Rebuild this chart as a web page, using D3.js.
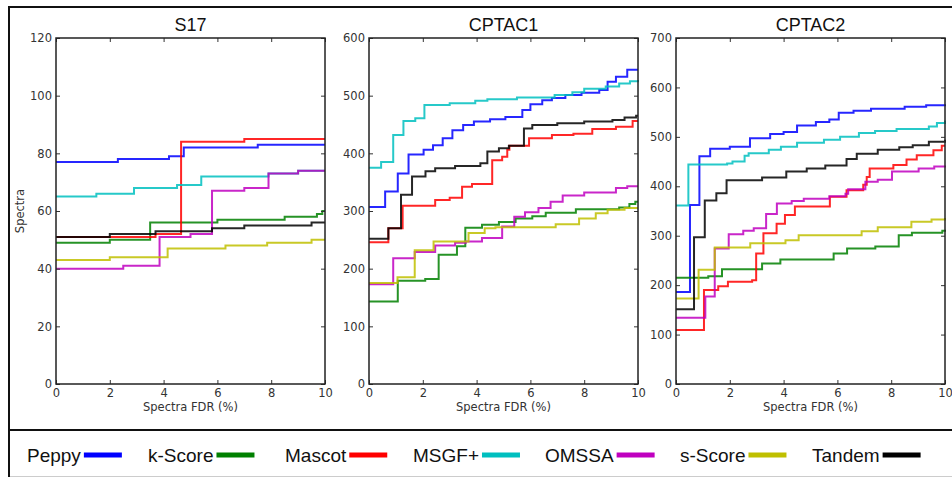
<!DOCTYPE html>
<html>
<head>
<meta charset="utf-8">
<script src="https://cdn.jsdelivr.net/npm/d3@7"></script>
<style>
  html, body { margin: 0; padding: 0; background: #fff; }
  svg { display: block; }
</style>
</head>
<body>
<svg id="chart" width="952" height="477"></svg>
<script>
// ---------- DATA ----------
const seriesNames = ["Peppy", "k-Score", "Mascot", "MSGF+", "OMSSA", "s-Score", "Tandem"];
const seriesColors = ["#0000ff", "#008000", "#ff0000", "#00bfbf", "#bf00bf", "#bfbf00", "#000000"];
const panelTitles = ["S17", "CPTAC1", "CPTAC2"];
const panelYMax = [120, 600, 700];
const panelYStep = [20, 100, 100];
const xTicks = [0, 2, 4, 6, 8, 10];

// S17 (FDR %, spectra)
const S17_Peppy  = [[0,77],[2.3,78],[4.2,79],[4.75,82],[7.5,83],[10,83]];
const S17_kScore = [[0,49],[2,50],[3.5,56],[6,57],[8.5,58],[9.7,59],[9.9,60],[10,60]];
const S17_Mascot = [[0,51],[3.7,52],[4.65,84],[7,85],[10,85]];
const S17_MSGF   = [[0,65],[1.5,66],[2.9,68],[4.5,69],[5.4,72],[7.9,73],[9,74],[10,74]];
const S17_OMSSA  = [[0,40],[2.5,41],[3.85,51],[5,52],[5.8,67],[7,68],[7.9,73],[9,74],[10,74]];
const S17_sScore = [[0,43],[2,44],[4.15,47],[6.3,48],[7.85,49],[9.5,50],[10,50]];
const S17_Tandem = [[0,51],[2,52],[3.7,53],[5.8,54],[7.0,55],[9.5,56],[10,56]];

// CPTAC1
const C1_Peppy  = [[0,307],[0.6,334],[1.07,365],[1.47,398],[2.03,406],[2.38,414],[2.74,426],[3.1,440],[3.5,449],[3.9,455],[4.5,459],[5.07,463],[5.7,475],[6.0,485],[6.44,492],[6.8,496],[7.3,501],[7.9,505],[8.56,510],[8.87,524],[9.18,533],[9.6,545],[10,545]];
const C1_kScore = [[0,143],[1.07,179],[2.09,182],[2.59,224],[3.27,239],[3.58,271],[4.2,276],[4.83,281],[5.45,287],[6.07,291],[6.57,297],[7.69,303],[9.3,306],[9.68,312],[9.9,316],[10,316]];
const C1_Mascot = [[0,246],[0.72,270],[1.25,309],[2.46,319],[3.0,323],[3.46,342],[3.83,347],[4.58,388],[4.95,394],[5.14,406],[5.22,413],[5.95,426],[6.8,432],[7.6,434],[8.3,442],[9.18,446],[9.8,456],[10,456]];
const C1_MSGF   = [[0,375],[0.45,385],[0.9,432],[1.28,456],[1.72,461],[2.06,484],[3.0,487],[3.95,491],[4.4,494],[5.5,497],[6.9,501],[7.56,506],[8.0,512],[8.8,516],[9.3,521],[9.7,525],[10,527]];
const C1_OMSSA  = [[0,173],[0.9,218],[1.7,229],[2.46,240],[3.2,245],[3.6,247],[4.2,253],[4.95,273],[5.4,290],[5.8,298],[6.3,305],[6.75,316],[7.2,327],[8.0,332],[9.18,340],[9.6,343],[10,343]];
const C1_sScore = [[0,175],[1.06,185],[1.7,232],[2.4,247],[3.7,262],[4.3,270],[4.7,272],[6.94,277],[7.81,287],[8.43,296],[8.87,302],[9.5,305],[10,305]];
const C1_Tandem = [[0,252],[0.72,270],[1.19,328],[1.6,360],[2.1,369],[2.46,374],[3.2,378],[4.14,383],[4.4,403],[4.83,409],[5.2,413],[5.76,443],[6.07,449],[7.0,452],[8.0,455],[9.05,458],[9.5,462],[9.93,465],[10,465]];

// CPTAC2
const C2_Peppy  = [[0,186],[0.52,362],[0.87,461],[1.27,476],[2.0,480],[2.75,497],[3.5,506],[4.0,510],[4.5,523],[5.2,530],[5.7,535],[6.05,549],[6.6,553],[7.25,557],[8.5,561],[9.3,564],[10,566]];
const C2_kScore = [[0,215],[1.2,218],[1.71,232],[3.2,244],[3.88,252],[5.86,264],[6.36,274],[7.41,278],[8.28,301],[8.77,306],[9.9,310],[10,312]];
const C2_Mascot = [[0,109],[1.04,190],[1.57,198],[1.93,207],[2.83,210],[2.98,264],[3.25,305],[3.74,324],[4.05,342],[4.42,359],[5.72,379],[6.34,392],[6.96,403],[7.09,419],[7.2,436],[8.08,443],[8.57,454],[8.95,463],[9.57,473],[9.88,482],[10,482]];
const C2_MSGF   = [[0,361],[0.46,444],[1.9,446],[2.1,450],[2.55,462],[2.7,467],[3.45,474],[3.9,480],[4.5,488],[5.5,494],[6.1,500],[6.8,508],[7.4,512],[8.2,516],[9.4,521],[9.7,528],[10,533]];
const C2_OMSSA  = [[0,134],[1.09,177],[1.44,274],[1.96,303],[2.5,310],[2.89,315],[3.35,344],[3.75,365],[4.3,370],[4.75,375],[5.7,380],[6.3,385],[6.4,394],[7.04,409],[7.5,413],[8.03,430],[9.02,436],[9.6,440],[10,442]];
const C2_sScore = [[0,173],[0.84,231],[1.44,276],[2.76,285],[4.07,291],[4.56,301],[6.9,309],[7.5,317],[8.75,328],[9.5,333],[10,336]];
const C2_Tandem = [[0,151],[0.67,297],[1.07,371],[1.5,386],[1.88,412],[3.2,418],[4.1,430],[4.86,436],[5.55,442],[6.34,455],[6.72,466],[7.5,474],[8.3,479],[8.8,483],[9.4,490],[10,494]];

const panelSeries = [
  [S17_Peppy, S17_kScore, S17_Mascot, S17_MSGF, S17_OMSSA, S17_sScore, S17_Tandem],
  [C1_Peppy, C1_kScore, C1_Mascot, C1_MSGF, C1_OMSSA, C1_sScore, C1_Tandem],
  [C2_Peppy, C2_kScore, C2_Mascot, C2_MSGF, C2_OMSSA, C2_sScore, C2_Tandem]
];

// ---------- LAYOUT ----------
const svg = d3.select("#chart");
const panelLeft = [56, 369, 676];
const panelW = 269;
const plotTop = 38, plotBottom = 384;
const axisFont = "'DejaVu Sans', sans-serif";
const sansFont = "'Liberation Sans', Arial, sans-serif";

// outer frames
svg.append("rect").attr("x", 9).attr("y", 7).attr("width", 960).attr("height", 423)
  .attr("fill", "none").attr("stroke", "#111").attr("stroke-width", 2);
svg.append("line").attr("x1", 9).attr("x2", 952).attr("y1", 476.5).attr("y2", 476.5)
  .attr("stroke", "#ccc").attr("stroke-width", 1);
svg.append("line").attr("x1", 9).attr("x2", 9).attr("y1", 430).attr("y2", 477)
  .attr("stroke", "#111").attr("stroke-width", 2);

panelSeries.forEach((seriesList, p) => {
  const g = svg.append("g").attr("transform", `translate(${panelLeft[p]},${plotTop})`);
  const h = plotBottom - plotTop;
  const x = d3.scaleLinear().domain([0, 10]).range([0, panelW]);
  const y = d3.scaleLinear().domain([0, panelYMax[p]]).range([h, 0]);
  const yTicks = d3.range(0, panelYMax[p] + 1, panelYStep[p]);

  const line = d3.line().x(d => x(d[0])).y(d => y(d[1])).curve(d3.curveStepAfter);
  seriesList.forEach((data, i) => {
    g.append("path").datum(data).attr("d", line)
      .attr("fill", "none").attr("stroke", seriesColors[i])
      .attr("stroke-width", 2).attr("stroke-opacity", 0.85)
      .attr("stroke-linejoin", "miter");
  });

  const styleAxis = sel => {
    sel.select(".domain").remove();
    sel.selectAll(".tick line").attr("stroke", "#333").attr("stroke-width", 1);
    sel.selectAll(".tick text").attr("fill", "#333")
      .style("font-family", axisFont).style("font-size", "11.5px");
  };
  g.append("g").call(d3.axisLeft(y).tickValues(yTicks).tickSize(-4).tickPadding(4)).call(styleAxis);
  g.append("g").attr("transform", `translate(${panelW},0)`)
    .call(d3.axisRight(y).tickValues(yTicks).tickSize(-4).tickFormat("")).call(styleAxis);
  g.append("g").attr("transform", `translate(0,${h})`)
    .call(d3.axisBottom(x).tickValues(xTicks).tickSize(-4).tickPadding(5)).call(styleAxis);
  g.append("g").call(d3.axisTop(x).tickValues(xTicks).tickSize(-4).tickFormat("")).call(styleAxis);

  g.append("rect").attr("x", 0).attr("y", 0).attr("width", panelW).attr("height", h)
    .attr("fill", "none").attr("stroke", "#222").attr("stroke-width", 1.5);

  g.append("text").attr("x", panelW / 2).attr("y", -7.5).attr("text-anchor", "middle")
    .style("font-family", sansFont).style("font-size", "18px").attr("fill", "#111")
    .text(panelTitles[p]);

  g.append("text").attr("x", panelW / 2).attr("y", h + 27).attr("text-anchor", "middle")
    .style("font-family", axisFont).style("font-size", "11.5px").attr("fill", "#333")
    .text("Spectra FDR (%)");

  if (p === 0) {
    g.append("text").attr("transform", `translate(${20 - panelLeft[0] + 4},${h / 2}) rotate(-90)`)
      .attr("text-anchor", "middle")
      .style("font-family", axisFont).style("font-size", "11.5px").attr("fill", "#333")
      .text("Spectra");
  }
});

// legend
const legendX = [27, 148, 285, 413, 545, 680, 812];
seriesNames.forEach((name, i) => {
  const t = svg.append("text").attr("x", legendX[i]).attr("y", 462)
    .style("font-family", sansFont).style("font-size", "19px").attr("fill", "#111")
    .text(name);
  const w = t.node().getComputedTextLength();
  svg.append("line").attr("x1", legendX[i] + w + 3).attr("x2", legendX[i] + w + 41)
    .attr("y1", 455).attr("y2", 455)
    .attr("stroke", seriesColors[i]).attr("stroke-width", 5);
});
</script>
</body>
</html>
